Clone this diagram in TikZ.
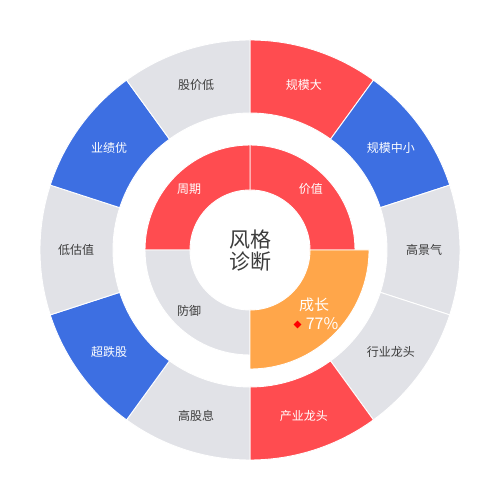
\documentclass[tikz,border=0pt]{standalone}
\usepackage{fontspec}
\setmainfont{Noto Sans CJK SC}
\usetikzlibrary{shapes.geometric}
\definecolor{segred}{RGB}{255,76,80}
\definecolor{segblue}{RGB}{61,111,226}
\definecolor{seggray}{RGB}{225,226,231}
\definecolor{segorange}{RGB}{255,166,74}
\definecolor{labdark}{RGB}{60,60,60}
\tikzset{
  seg/.style={draw=white,line width=0.9pt},
  lab/.style={font=\fontsize{12}{14}\selectfont,inner sep=0pt},
}

\begin{document}
\begin{tikzpicture}[x=1pt,y=1pt]
\useasboundingbox (0,0) rectangle (500,500);
\begin{scope}[shift={(250,250)}]
% outer ring
\foreach \s/\c/\t/\tc [count=\i] in {54/segred/规模大/white,18/segblue/规模中小/white,-18/seggray/高景气/labdark,-54/seggray/行业龙头/labdark,-90/segred/产业龙头/white,-126/seggray/高股息/labdark,-162/segblue/超跌股/white,162/seggray/低估值/labdark,126/segblue/业绩优/white,90/seggray/股价低/labdark}
{
  \filldraw[seg,fill=\c] (\s:137) -- (\s:210) arc[start angle=\s, delta angle=36, radius=210] -- (\s+36:137) arc[start angle=\s+36, delta angle=-36, radius=137] -- cycle;
  \node[lab,text=\tc] (outer\i) at (\s+18:174) {\t};
}
% inner ring
\foreach \s/\c/\t/\tc [count=\i] in {0/segred/价值/white,90/segred/周期/white,180/seggray/防御/labdark}
{
  \filldraw[seg,fill=\c] (\s:60) -- (\s:105) arc[start angle=\s, delta angle=90, radius=105] -- (\s+90:60) arc[start angle=\s+90, delta angle=-90, radius=60] -- cycle;
  \node[lab,text=\tc] (inner\i) at (\s+45:86) {\t};
}
\filldraw[seg,fill=segorange] (270:60) -- (270:119) arc[start angle=270, delta angle=90, radius=119] -- (0:60) arc[start angle=0, delta angle=-90, radius=60] -- cycle;
\node[font=\fontsize{15}{17}\selectfont,text=white,inner sep=0pt] (grow) at (64,-55) {成长};
\node[font=\fontsize{16}{18}\selectfont,text=white,inner sep=0pt] (pct) at (72,-74) {77\%};
\node[diamond,fill=red,inner sep=0pt,minimum size=8pt] (mark) at (47.5,-74.5) {};
% centre
\node[font=\fontsize{21}{22}\selectfont,text=labdark,align=center,inner sep=0pt] (title) at (0,-1) {风格\\诊断};
\end{scope}
\end{tikzpicture}
\end{document}
